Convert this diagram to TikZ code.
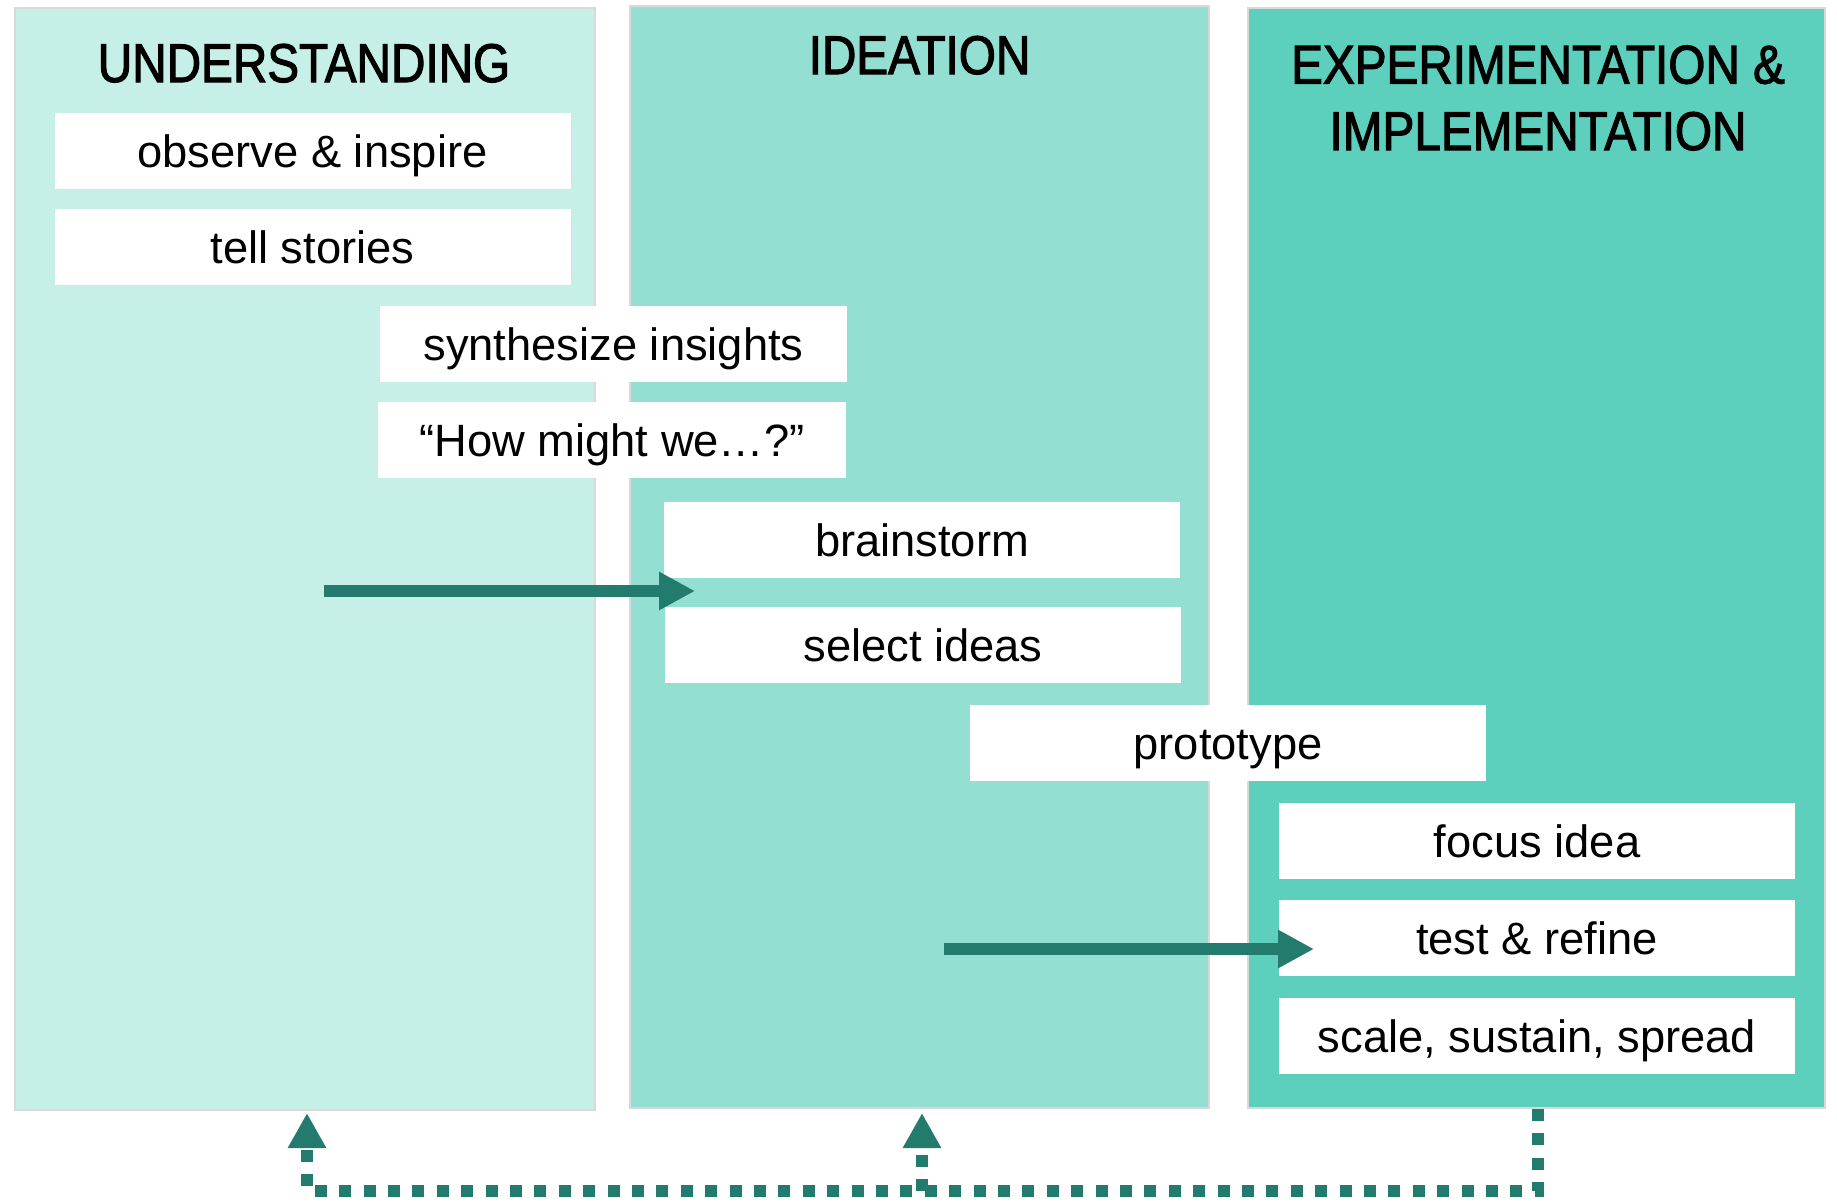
\documentclass[tikz,border=0pt]{standalone}
\usepackage{fontspec}
\setmainfont{Liberation Sans}
\newfontfamily\headfont[FakeStretch=0.875,FakeBold=2]{Liberation Sans}
\usetikzlibrary{arrows.meta}
\definecolor{pone}{HTML}{C6EFE7}
\definecolor{ptwo}{HTML}{93DFD2}
\definecolor{pthree}{HTML}{5CCFBD}
\definecolor{arrowc}{HTML}{237B6D}
\definecolor{bordc}{HTML}{D9D9D9}
\tikzset{
  panel/.style={draw=bordc, line width=2.5pt, inner sep=0pt},
  head/.style={font=\headfont\fontsize{54.5}{66.5}\selectfont, align=center, inner sep=0pt, anchor=base},
  item/.style={fill=white, inner sep=0pt, minimum width=516pt, minimum height=76pt,
     text height=33pt, text depth=0pt, font=\fontsize{45.3}{50}\selectfont},
  flow/.style={draw=arrowc, line width=12pt, -{Triangle[length=36pt,width=36pt]}},
  loopline/.style={draw=arrowc, line width=12pt, dash pattern=on 12pt off 12.4pt},
  looptip/.style={-{Triangle[length=35pt,width=36pt]}}
}
\begin{document}
\begin{tikzpicture}[x=1pt,y=-1pt]
\useasboundingbox (0,0) rectangle (1837,1203);
% panels
\node[panel, fill=pone, minimum width=580pt, minimum height=1102pt] (p1) at (305,559) {};
\node[panel, fill=ptwo, minimum width=579pt, minimum height=1102pt] (p2) at (919.5,557) {};
\node[panel, fill=pthree, minimum width=577pt, minimum height=1100pt] (p3) at (1536.5,558) {};
% headings
\node[head] (h1) at (304,82) {UNDERSTANDING};
\node[head] (h2) at (919.5,74) {IDEATION};
\node[head] (h3) at (1538,150) {EXPERIMENTATION \&\\IMPLEMENTATION};
% items
\node[item] (obs) at (312.5,150.5) {observe \& inspire};
\node[item] (tell) at (312.5,247) {tell stories};
\node[item, minimum width=467pt] (synth) at (613.5,343.5) {synthesize insights};
\node[item, minimum width=468pt] (how) at (612,440) {“How might we…?”};
\node[item] (brain) at (922,540) {brainstorm};
\node[item] (select) at (923,644.5) {select ideas};
\node[item] (proto) at (1228,743) {prototype};
\node[item] (focus) at (1537,841) {focus idea};
\node[item] (test) at (1537,938) {test \& refine};
\node[item] (scale) at (1537,1036) {scale, sustain, spread};
% solid arrows
\coordinate (a1s) at (324,591);
\coordinate (a1e) at (695,591);
\coordinate (a2s) at (944,949);
\coordinate (a2e) at (1314,949);
\draw[flow] (a1s) -- (a1e);
\draw[flow] (a2s) -- (a2e);
% feedback loop
\coordinate (lr) at (1538,1191);
\coordinate (ll) at (307,1191);
\coordinate (lm) at (922,1191);
\coordinate (t1) at (307,1113);
\coordinate (t2) at (922,1113);
\coordinate (ls) at (1538,1109);
\draw[loopline, looptip] (ls) -- (lr) -- (ll) -- (t1);
\draw[loopline, looptip] (lm) -- (t2);
\end{tikzpicture}
\end{document}
